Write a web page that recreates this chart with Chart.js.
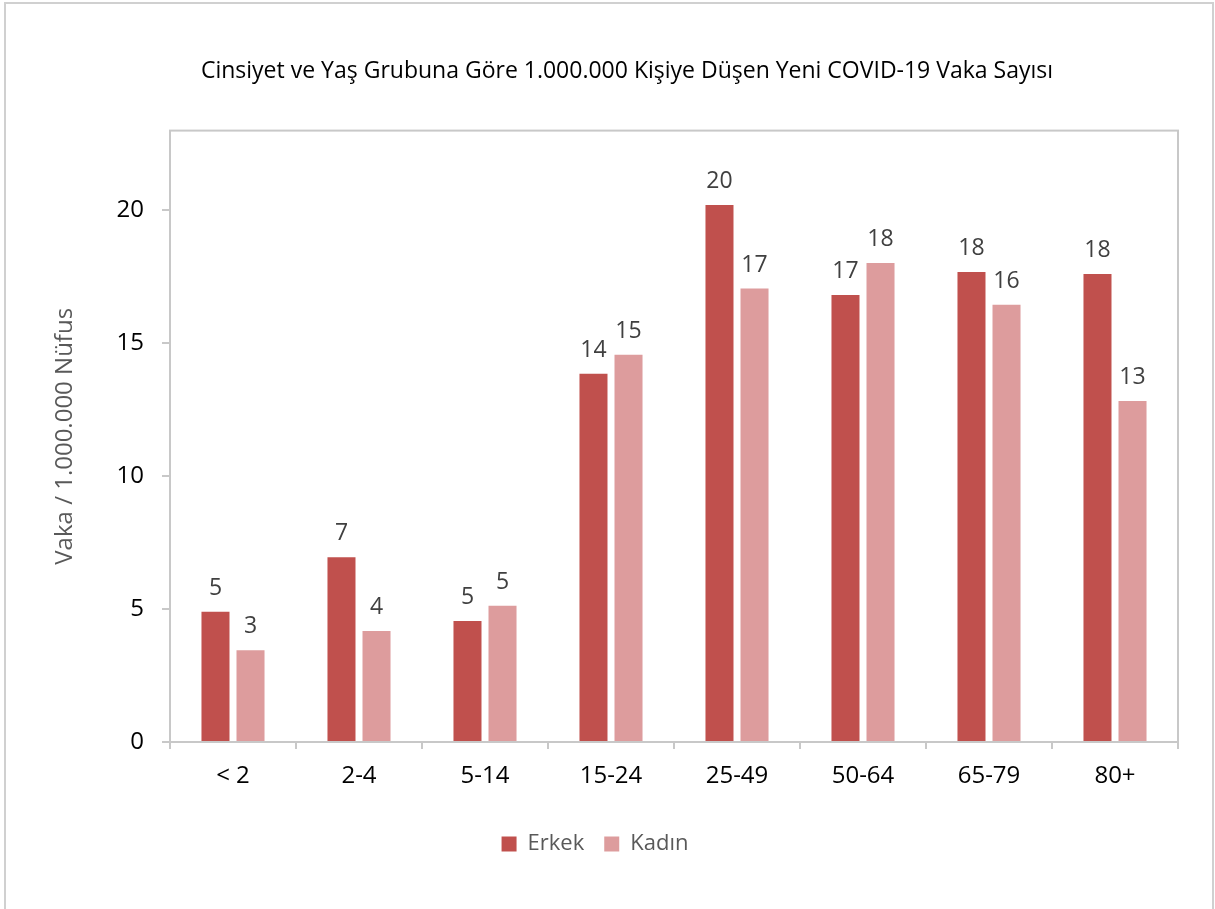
<!DOCTYPE html>
<html>
<head>
<meta charset="utf-8">
<script src="https://cdn.jsdelivr.net/npm/chart.js"></script>
<style>
  html, body { margin: 0; padding: 0; background: #fff; overflow: hidden; }
  .frame {
    position: absolute; left: 4px; top: 2px; width: 1210px; height: 1000px;
    border: 2px solid #d0d0d0; box-sizing: border-box;
  }
  #chart-wrap { position: absolute; left: 0; top: 0; width: 1215px; height: 909px; }
</style>
</head>
<body>
<div class="frame"></div>
<div id="chart-wrap"><canvas id="vaka-chart" width="1215" height="909"></canvas></div>
<script>
// data
const ageGroups = ['< 2', '2-4', '5-14', '15-24', '25-49', '50-64', '65-79', '80+'];
const erkek = [4.9, 6.95, 4.55, 13.85, 20.2, 16.82, 17.68, 17.61];
const kadin = [3.45, 4.18, 5.13, 14.57, 17.06, 18.02, 16.45, 12.83];
const yTicks = [0, 5, 10, 15, 20];

const chartTitle = 'Cinsiyet ve Yaş Grubuna Göre 1.000.000 Kişiye Düşen Yeni COVID-19 Vaka Sayısı';
const yTitle = 'Vaka / 1.000.000 Nüfus';

const fontFamily = '"Open Sans", "DejaVu Sans", sans-serif';

// border round the plot area
const plotBorder = {
    id: 'plotBorder',
    beforeDatasetsDraw(chart) {
        const a = chart.chartArea
        const ctx = chart.ctx
        ctx.save()
        ctx.strokeStyle = '#c8c8c8'
        ctx.lineWidth = 2
        ctx.strokeRect(a.left, a.top, a.right - a.left, a.bottom - a.top)
        ctx.restore()
    }
}

// value labels above each bar
const barLabels = {
    id: 'barLabels',
    afterDatasetsDraw(chart) {
        const ctx = chart.ctx
        ctx.save()
        ctx.font = '23px ' + fontFamily
        ctx.fillStyle = '#404040'
        ctx.textAlign = 'center'
        ctx.textBaseline = 'alphabetic'
        chart.data.datasets.forEach(function (ds, i) {
            chart.getDatasetMeta(i).data.forEach(function (bar, j) {
                ctx.fillText(Math.round(ds.data[j]), bar.x, bar.y - 17)
            })
        })
        ctx.restore()
    }
}

// the title sits a little right of the legend in the reference
const titleShift = {
    id: 'titleShift',
    afterLayout(chart) {
        chart.titleBlock.left += 28
        chart.titleBlock.right += 28
        chart.legend.left -= 4
        chart.legend.right -= 4
    }
}

new Chart(document.getElementById('vaka-chart'), {
    type: 'bar',
    data: {
        labels: ageGroups,
        datasets: [
            { label: 'Erkek', data: erkek, backgroundColor: '#c0504d' },
            { label: 'Kadın', data: kadin, backgroundColor: '#dd9c9d' }
        ]
    },
    options: {
        responsive: false,
        animation: false,
        events: [],
        categoryPercentage: 0.556,
        barPercentage: 0.8,
        layout: { padding: { left: 20, right: 37, top: 0, bottom: 44 } },
        plugins: {
            title: {
                display: true,
                text: chartTitle,
                color: '#000',
                font: { family: fontFamily, size: 23, weight: 'normal' },
                padding: { top: 58, bottom: 45 }
            },
            legend: {
                position: 'bottom',
                labels: {
                    color: '#595959',
                    font: { family: fontFamily, size: 22 },
                    boxWidth: 15,
                    boxHeight: 15,
                    padding: 20
                }
            },
            tooltip: { enabled: false }
        },
        scales: {
            x: {
                grid: { drawOnChartArea: false, offset: true, tickLength: 7, color: '#c8c8c8', lineWidth: 2 },
                border: { display: false },
                ticks: { color: '#000', font: { family: fontFamily, size: 24 }, padding: 13 },
                afterFit(scale) { scale.height = 71 }
            },
            y: {
                min: 0,
                max: 23,
                grid: { drawOnChartArea: false, tickLength: 8, color: '#c8c8c8', lineWidth: 2 },
                border: { display: false },
                ticks: { color: '#000', font: { family: fontFamily, size: 24 }, padding: 18 },
                afterBuildTicks(scale) { scale.ticks = yTicks.map(v => ({ value: v })) },
                afterFit(scale) { scale.width = 150 },
                title: {
                    display: true,
                    text: yTitle,
                    color: '#595959',
                    font: { family: fontFamily, size: 24 },
                    padding: { top: 31, bottom: 0 }
                }
            }
        }
    },
    plugins: [plotBorder, barLabels, titleShift]
});
</script>
</body>
</html>
